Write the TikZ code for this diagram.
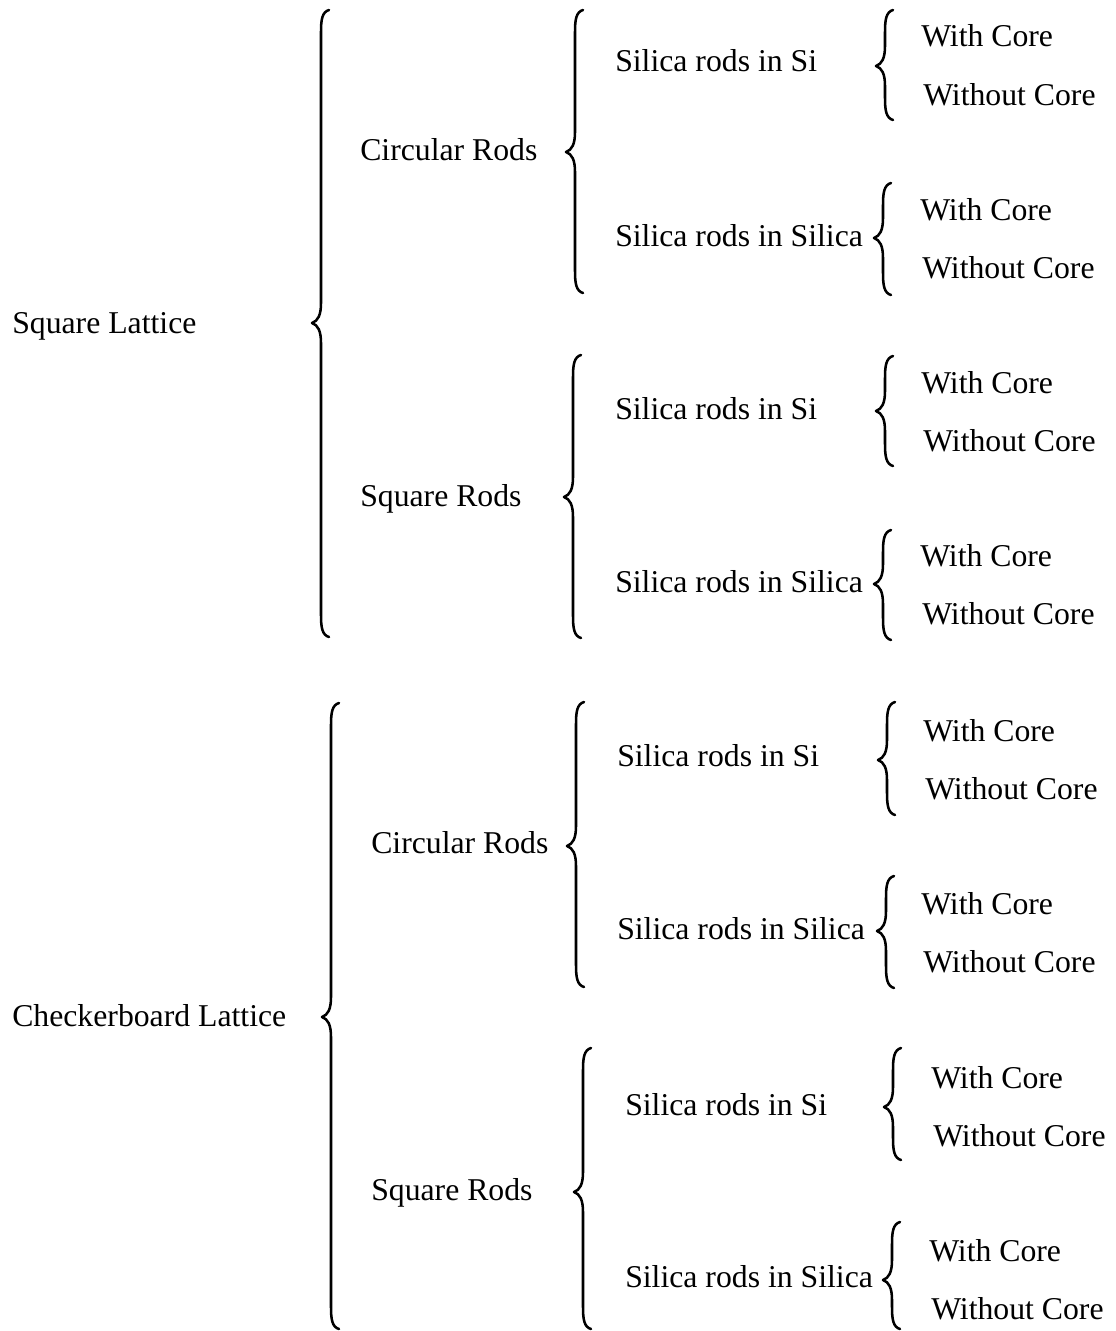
\documentclass[tikz,border=0pt]{standalone}
\usepackage{fontspec}
\setmainfont{Liberation Serif}
\newcommand{\cbrace}[4]{% x, top, bottom, tip y
  \draw[bracestyle] ({#1+8},#2) .. controls ({#1+1},{#2+2}) and (#1,{#2+10}) .. (#1,{#2+22})
    -- (#1,{#4-20}) .. controls (#1,{#4-8}) and ({#1-3},{#4-2}) .. ({#1-9},#4)
    .. controls ({#1-3},{#4+2}) and (#1,{#4+8}) .. (#1,{#4+20})
    -- (#1,{#3-22}) .. controls (#1,{#3-10}) and ({#1+1},{#3-2}) .. ({#1+8},#3);}
\begin{document}
\begin{tikzpicture}[x=0.75pt,y=-0.75pt,
  bracestyle/.style={line width=1.9pt,line cap=round,line join=round},
  lbl/.style={anchor=base west,inner sep=0pt,font=\fontsize{23.8}{28}\selectfont}]
\useasboundingbox (0,0) rectangle (1115,1331);
% ---------- Square lattice ----------
\node[lbl] (sl) at (12,333) {Square Lattice};
\cbrace{321}{10}{637}{323}
\node[lbl] (cr1) at (360,160) {Circular Rods};
\cbrace{575}{10}{293}{152}
\node[lbl] (s1) at (615,72) {Silica rods in Si};
\cbrace{885}{10}{120}{66}
\node[lbl] (w1) at (921,47) {With Core};
\node[lbl] (wo1) at (923,105) {Without Core};
\node[lbl] (s2) at (615,246) {Silica rods in Silica};
\cbrace{883}{183}{295}{238}
\node[lbl] (w2) at (920,220) {With Core};
\node[lbl] (wo2) at (922,278) {Without Core};
\node[lbl] (sr1) at (360,506) {Square Rods};
\cbrace{573}{355}{638}{497}
\node[lbl] (s3) at (615,419) {Silica rods in Si};
\cbrace{885}{356}{466}{411}
\node[lbl] (w3) at (921,393) {With Core};
\node[lbl] (wo3) at (923,451) {Without Core};
\node[lbl] (s4) at (615,592) {Silica rods in Silica};
\cbrace{883}{530}{640}{584}
\node[lbl] (w4) at (920,566) {With Core};
\node[lbl] (wo4) at (922,624) {Without Core};
% ---------- Checkerboard lattice ----------
\node[lbl] (cl) at (12,1026) {Checkerboard Lattice};
\cbrace{331}{703}{1329}{1017}
\node[lbl] (cr2) at (371,853) {Circular Rods};
\cbrace{576}{702}{987}{846}
\node[lbl] (s5) at (617,766) {Silica rods in Si};
\cbrace{887}{702}{815}{760}
\node[lbl] (w5) at (923,741) {With Core};
\node[lbl] (wo5) at (925,799) {Without Core};
\node[lbl] (s6) at (617,939) {Silica rods in Silica};
\cbrace{886}{876}{988}{931}
\node[lbl] (w6) at (921,914) {With Core};
\node[lbl] (wo6) at (923,972) {Without Core};
\node[lbl] (sr2) at (371,1200) {Square Rods};
\cbrace{583}{1048}{1329}{1192}
\node[lbl] (s7) at (625,1115) {Silica rods in Si};
\cbrace{893}{1048}{1160}{1107}
\node[lbl] (w7) at (931,1088) {With Core};
\node[lbl] (wo7) at (933,1146) {Without Core};
\node[lbl] (s8) at (625,1287) {Silica rods in Silica};
\cbrace{892}{1222}{1329}{1280}
\node[lbl] (w8) at (929,1261) {With Core};
\node[lbl] (wo8) at (931,1319) {Without Core};
\end{tikzpicture}
\end{document}
